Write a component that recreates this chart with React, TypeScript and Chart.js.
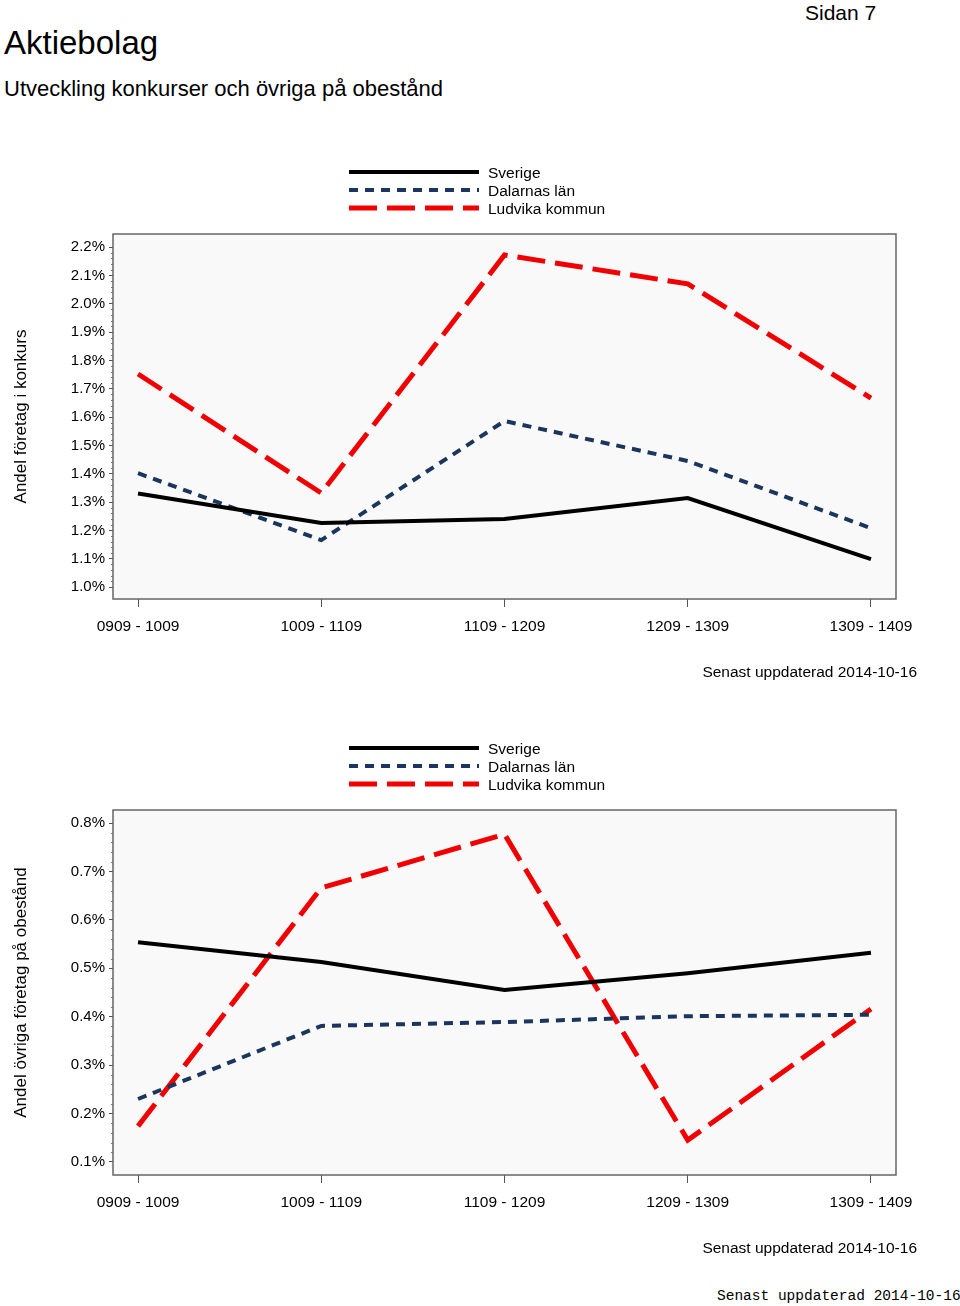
import React, { useEffect, useRef } from "react";
import { Chart, registerables } from "chart.js";

Chart.register(...registerables);

const categories = ["0909 - 1009", "1009 - 1109", "1109 - 1209", "1209 - 1309", "1309 - 1409"];
const seriesNames = ["Sverige", "Dalarnas län", "Ludvika kommun"];

const konkursSverige = [1.33, 1.226, 1.24, 1.314, 1.099];
const konkursDalarnas = [1.402, 1.166, 1.586, 1.445, 1.208];
const konkursLudvika = [1.752, 1.332, 2.172, 2.07, 1.667];
const konkursTicks = [1.0, 1.1, 1.2, 1.3, 1.4, 1.5, 1.6, 1.7, 1.8, 1.9, 2.0, 2.1, 2.2];

const obestandSverige = [0.554, 0.513, 0.455, 0.49, 0.532];
const obestandDalarnas = [0.23, 0.381, 0.389, 0.401, 0.404];
const obestandLudvika = [0.174, 0.666, 0.777, 0.145, 0.416];
const obestandTicks = [0.1, 0.2, 0.3, 0.4, 0.5, 0.6, 0.7, 0.8];

const FONT = '"Liberation Sans", Arial, Helvetica, sans-serif';
const footerText = "Senast uppdaterad 2014-10-16";

const CW = 960;
const CH = 560;

type Props = {
  sverige: number[];
  dalarnas: number[];
  ludvika: number[];
  ticks: number[];
  yMin: number;
  yMax: number;
  yTitle: string;
  top: number;
};

function LineChart({ sverige, dalarnas, ludvika, ticks, yMin, yMax, yTitle, top }: Props) {
  const ref = useRef<HTMLCanvasElement | null>(null);
  useEffect(() => {
    if (!ref.current) return;
    const toPts = (arr: number[]) => arr.map((v, i) => ({ x: i, y: v }));
    const bgPlugin = {
      id: "bgPlot",
      beforeDraw(chart: any) {
        const { ctx, chartArea: a } = chart;
        ctx.save();
        ctx.fillStyle = "#f9f9f9";
        ctx.fillRect(a.left, a.top, a.right - a.left, a.bottom - a.top);
        ctx.restore();
      },
      afterDraw(chart: any) {
        const { ctx, chartArea: a } = chart;
        ctx.save();
        ctx.strokeStyle = "#666";
        ctx.lineWidth = 1.5;
        ctx.strokeRect(a.left, a.top, a.right - a.left, a.bottom - a.top);
        const ys = chart.scales.y;
        const step = (ticks[1] - ticks[0]) / 5;
        ctx.strokeStyle = "#777";
        ctx.lineWidth = 1;
        for (let k = 0; k <= (ticks.length - 1) * 5; k++) {
          if (k % 5 === 0) continue;
          const v = ticks[0] + k * step;
          const py = Math.round(ys.getPixelForValue(v)) + 0.5;
          ctx.beginPath();
          ctx.moveTo(a.left - 2, py);
          ctx.lineTo(a.left, py);
          ctx.stroke();
        }
        chart.data.datasets.forEach((ds: any, i: number) => {
          const y = 22 + i * 18;
          ctx.save();
          ctx.strokeStyle = ds.borderColor;
          ctx.lineWidth = ds.borderWidth;
          ctx.setLineDash(ds.borderDash || []);
          ctx.beginPath();
          ctx.moveTo(349, y);
          ctx.lineTo(479, y);
          ctx.stroke();
          ctx.restore();
          ctx.fillStyle = "#000";
          ctx.font = `15.5px ${FONT}`;
          ctx.textBaseline = "middle";
          ctx.textAlign = "left";
          ctx.fillText(ds.label, 488, y + 2);
        });
        ctx.fillStyle = "#000";
        ctx.font = `15.5px ${FONT}`;
        ctx.textAlign = "right";
        ctx.textBaseline = "middle";
        ctx.fillText(footerText, 917, 523);
        ctx.restore();
      },
    };
    const chart = new Chart(ref.current, {
      type: "line",
      data: {
        datasets: [
          {
            label: seriesNames[0],
            data: toPts(sverige),
            borderColor: "#000000",
            borderWidth: 4,
            pointRadius: 0,
            borderJoinStyle: "miter",
            tension: 0,
          },
          {
            label: seriesNames[1],
            data: toPts(dalarnas),
            borderColor: "#1b365d",
            borderWidth: 4,
            borderDash: [9, 7],
            pointRadius: 0,
            borderJoinStyle: "miter",
            tension: 0,
          },
          {
            label: seriesNames[2],
            data: toPts(ludvika),
            borderColor: "#f00000",
            borderWidth: 5,
            borderDash: [28, 10],
            pointRadius: 0,
            borderJoinStyle: "miter",
            tension: 0,
          },
        ],
      } as any,
      options: {
        responsive: false,
        animation: false,
        devicePixelRatio: 1,
        layout: { padding: { top: 84, right: 64, bottom: CH - 449 - 60, left: 0 } },
        plugins: { legend: { display: false }, tooltip: { enabled: false } },
        scales: {
          x: {
            type: "linear",
            min: -0.1366,
            max: 4.1366,
            afterBuildTicks: (s: any) => {
              s.ticks = categories.map((_, i) => ({ value: i }));
            },
            afterFit: (s: any) => {
              s.height = 60;
            },
            ticks: {
              autoSkip: false,
              maxRotation: 0,
              padding: 10,
              color: "#000",
              font: { family: FONT, size: 15.5 },
              callback: (v: any) => categories[Math.round(Number(v))] ?? "",
            },
            grid: { drawOnChartArea: false, drawTicks: true, tickLength: 8, color: "#555", lineWidth: 1 },
            border: { display: false },
          },
          y: {
            type: "linear",
            min: yMin,
            max: yMax,
            afterBuildTicks: (s: any) => {
              s.ticks = ticks.map((v) => ({ value: v }));
            },
            afterFit: (s: any) => {
              s.width = 113;
            },
            ticks: {
              autoSkip: false,
              padding: 4,
              color: "#000",
              font: { family: FONT, size: 15 },
              callback: (v: any) => Number(v).toFixed(1) + "%",
            },
            title: {
              display: true,
              text: yTitle,
              color: "#000",
              font: { family: FONT, size: 17 },
              padding: { top: 11, bottom: 0 },
            },
            grid: { drawOnChartArea: false, drawTicks: true, tickLength: 4, color: "#555", lineWidth: 1 },
            border: { display: false },
          },
        },
      } as any,
      plugins: [bgPlugin],
    });
    return () => chart.destroy();
  }, []);
  return (
    <canvas
      ref={ref}
      width={CW}
      height={CH}
      style={{ position: "absolute", left: 0, top, width: CW, height: CH }}
    />
  );
}

export default function App() {
  useEffect(() => {
    document.body.style.margin = "0";
  }, []);
  const textBase: React.CSSProperties = {
    position: "absolute",
    fontFamily: FONT,
    lineHeight: 1,
    whiteSpace: "nowrap",
    color: "#000",
  };
  return (
    <div style={{ position: "relative", width: 960, height: 1306, background: "#fff", overflow: "hidden" }}>
      <div style={{ ...textBase, left: 805, top: 2, fontSize: 21 }}>Sidan 7</div>
      <div style={{ ...textBase, left: 4, top: 26, fontSize: 33 }}>Aktiebolag</div>
      <div style={{ ...textBase, left: 4, top: 78, fontSize: 22 }}>Utveckling konkurser och övriga på obestånd</div>
      <LineChart
        sverige={konkursSverige}
        dalarnas={konkursDalarnas}
        ludvika={konkursLudvika}
        ticks={konkursTicks}
        yMin={0.958}
        yMax={2.246}
        yTitle="Andel företag i konkurs"
        top={150}
      />
      <LineChart
        sverige={obestandSverige}
        dalarnas={obestandDalarnas}
        ludvika={obestandLudvika}
        ticks={obestandTicks}
        yMin={0.073}
        yMax={0.827}
        yTitle="Andel övriga företag på obestånd"
        top={726}
      />
      <div
        style={{
          ...textBase,
          left: 717,
          top: 1289,
          fontSize: 14.5,
          fontFamily: '"Liberation Mono", "Courier New", monospace',
        }}
      >
        {footerText}
      </div>
    </div>
  );
}
